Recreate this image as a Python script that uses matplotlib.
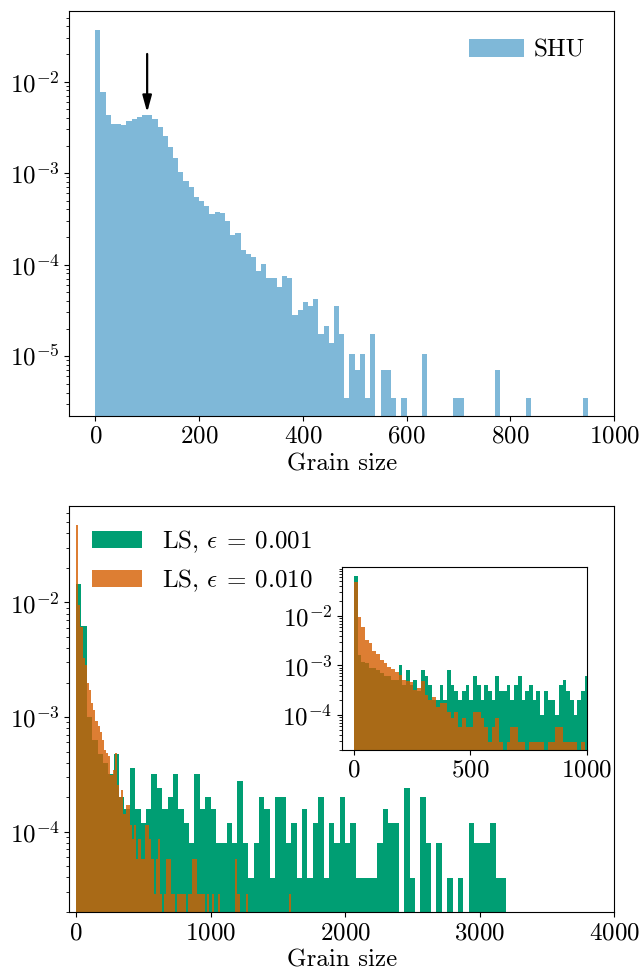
import numpy as np
import matplotlib
matplotlib.use("Agg")
import matplotlib.pyplot as plt

plt.rcParams['font.family'] = 'serif'
plt.rcParams['font.serif'] = ['cmr10']
plt.rcParams['mathtext.fontset'] = 'cm'
plt.rcParams['axes.formatter.use_mathtext'] = True
plt.rcParams['axes.unicode_minus'] = False
plt.rcParams['font.size'] = 18

# SHU grain size density, bins of width 10 starting at 0
shu_width = 10
shu_density = [
    0.0369, 0.0076, 0.00436, 0.00346, 0.00346, 0.00331, 0.00366, 0.00385, 0.00405, 0.00436,
    0.00436, 0.00385, 0.00315, 0.00251, 0.00195, 0.00145, 0.00102, 0.00081, 0.000698, 0.000543,
    0.000491, 0.000433, 0.000355, 0.000372, 0.000363, 0.000297, 0.000209, 0.00022, 0.000144, 0.00013,
    0.00012, 8.47e-5, 0.000101, 7.1e-5, 7.1e-5, 5.7e-5, 7.46e-5, 7.1e-5, 2.8e-5, 3.18e-5,
    3.89e-5, 3.52e-5, 4.19e-5, 1.74e-5, 2.13e-5, 1.40e-5, 3.49e-5, 1.745e-5, 3.49e-6, 1.047e-5,
    6.98e-6, 1.047e-5, 3.49e-6, 1.745e-5, 0, 6.98e-6, 6.98e-6, 3.49e-6, 0, 3.49e-6,
    0, 0, 0, 1.047e-5, 0, 0, 0, 0, 0, 3.49e-6,
    3.49e-6, 0, 0, 0, 0, 0, 0, 6.98e-6, 0, 0,
    0, 0, 0, 3.49e-6, 0, 0, 0, 0, 0, 0,
    0, 0, 0, 0, 3.49e-6,
]

# LS, eps = 0.001: counts per bin of width 40, one count = 3.98e-5 density
ls001_width = 40
ls001_unit = 3.98e-5
ls001_counts = [
    365, 157, 25, 16, 12, 10, 8, 12, 5, 4,
    9, 4, 3, 4, 8, 6, 4, 5, 8, 4,
    3, 2, 8, 4, 5, 4, 2, 2, 3, 2,
    7, 2, 1, 2, 5, 4, 1, 5, 5, 2,
    3, 1, 4, 1, 3, 5, 1, 3, 2, 5,
    2, 3, 1, 1, 1, 1, 2, 4, 3, 3,
    0, 6, 1, 0, 5, 2, 0, 2, 0, 1,
    0, 1, 0, 3, 2, 2, 2, 3, 1, 1,
]

# LS, eps = 0.010: counts per bin of width 16, one count = 2.86e-5 density
ls010_width = 16
ls010_unit = 2.86e-5
ls010_counts = [
    1660, 333, 214, 114, 100, 69, 60, 46, 40, 32,
    29, 26, 22, 18, 17, 16, 11, 12, 17, 9,
    7, 8, 5, 6, 6, 4, 3, 4, 2, 3,
    2, 2, 4, 4, 3, 2, 1, 2, 3, 1,
    0, 1, 2, 2, 1, 1, 0, 1, 1, 1,
    1, 0, 1, 1, 2, 2, 1, 1, 1, 1,
    0, 1, 0, 1, 0, 0, 1, 0, 0, 0,
    0, 0, 0, 0, 2, 1, 0, 0, 0, 1,
    0, 0, 0, 0, 0, 0, 0, 0, 0, 0,
    0, 0, 0, 0, 0, 0, 0, 0, 0, 1,
]

# eps = 0.001 again on the finer bins (width 16) used for the inset
ls001_fine_density = [
    0.065, 0.0016, 0.0012, 0.0011, 0.0009, 0.0009, 0.0008, 0.0007, 0.0006, 0.0006,
    0.0005, 0.0005, 0.001, 0.0004, 0.0008, 0.0004, 0.0005, 0.0003, 0.0008, 0.0006,
    0.0004, 0.0002, 0.0002, 0.0004, 0.0002, 0.0008, 0.0004, 0.0003, 0.0002, 0.0003,
    0.0004, 0.0002, 0.0006, 0.0004, 0.0002, 0.0004, 0.0003, 0.0002, 0.0006, 0.0003,
    0.0003, 0.0004, 0.0002, 0.0004, 0.0006, 0.0002, 0.0003, 0.0004, 0.0002, 0.0003,
    0.0001, 0.0003, 0.0002, 0.0002, 0.0001, 0.0004, 0.0005, 0.0003, 0.0002, 0.0001,
    0.0002, 0.0003, 0.0006,
]

blue = '#0072B2'
green = '#009E73'
orange = '#D55E00'


def draw_hist(ax, heights, width, **kw):
    heights = np.asarray(heights, dtype=float)
    edges = np.arange(len(heights) + 1) * width
    ax.hist(edges[:-1], bins=edges, weights=heights, **kw)


fig = plt.figure(figsize=(6.42, 9.73), dpi=100)
ax1 = fig.add_axes([0.108, 0.5725, 0.8484, 0.4165])
ax2 = fig.add_axes([0.108, 0.0624, 0.8484, 0.4176])
axin = fig.add_axes([0.533, 0.2292, 0.381, 0.1878])

# top panel
draw_hist(ax1, shu_density, shu_width, color=blue, alpha=0.5, label='SHU')
ax1.set_yscale('log')
ax1.set_xlim(-50, 1000)
ax1.set_ylim(2.22e-6, 0.0594)
ax1.set_xlabel('Grain size')
ax1.annotate('', xy=(100, 0.0046), xytext=(100, 0.02),
             arrowprops=dict(arrowstyle='-|>,head_length=0.55,head_width=0.15',
                             color='black', lw=1.6, shrinkA=0, shrinkB=0))
ax1.legend(loc='upper right', frameon=False, handlelength=2.2,
           handletextpad=0.4, borderaxespad=0.75)

# bottom panel
ls001 = np.array(ls001_counts) * ls001_unit
ls010 = np.array(ls010_counts) * ls010_unit
draw_hist(ax2, ls001, ls001_width, color=green, label=r'LS, $\epsilon\:=\:0.001$')
draw_hist(ax2, ls010, ls010_width, color=orange, alpha=0.8, label=r'LS, $\epsilon\:=\:0.010$')
ax2.set_yscale('log')
ax2.set_xlim(-50, 4000)
ax2.set_ylim(1.98e-5, 0.0695)
ax2.set_xticks([0, 1000, 2000, 3000, 4000])
ax2.set_xlabel('Grain size')
ax2.legend(loc='upper left', frameon=False)

# inset, first 1000 only
draw_hist(axin, ls001_fine_density, ls010_width, color=green)
draw_hist(axin, ls010[:63], ls010_width, color=orange, alpha=0.8)
axin.set_yscale('log')
axin.set_xlim(-50, 1000)
axin.set_ylim(1.96e-5, 0.0964)
axin.set_xticks([0, 500, 1000])

fig.savefig('out.png', dpi=100)
